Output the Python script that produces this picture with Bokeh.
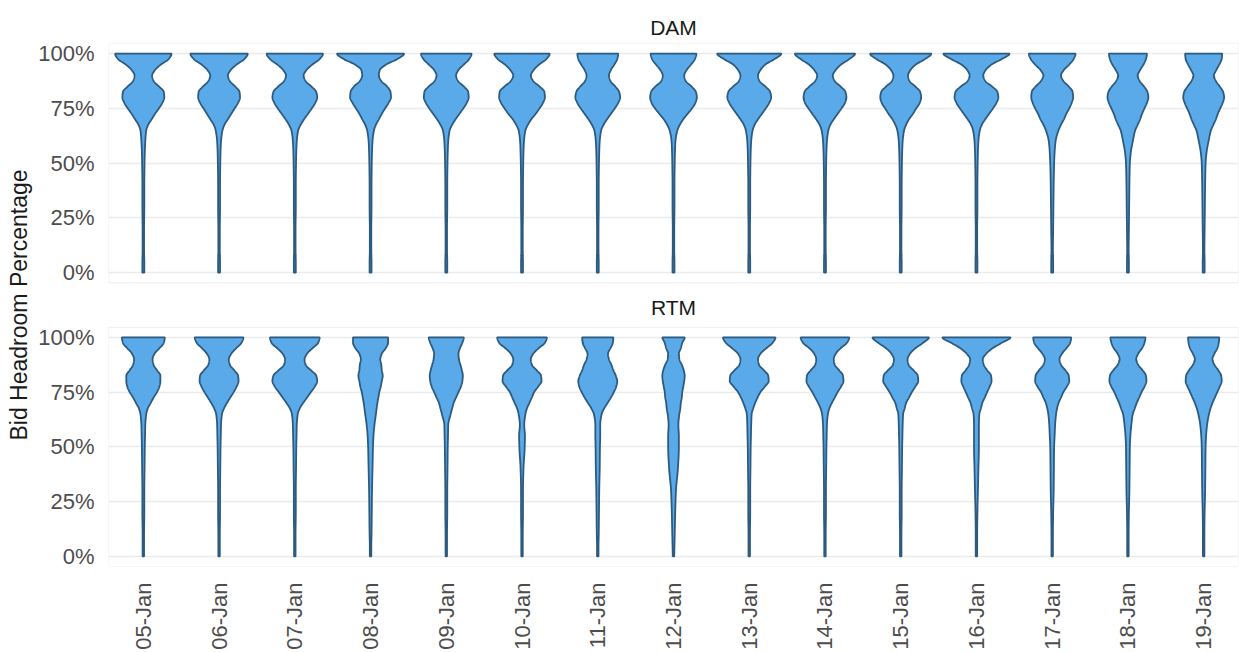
import math
import numpy as np
from bokeh.plotting import figure
from bokeh.models import Range1d, FixedTicker, ColumnDataSource
from bokeh.core.properties import value
from bokeh.embed import file_html
from bokeh.resources import INLINE

# ---- data -----------------------------------------------------------------
DAYS = ["05-Jan", "06-Jan", "07-Jan", "08-Jan", "09-Jan", "10-Jan", "11-Jan",
        "12-Jan", "13-Jan", "14-Jan", "15-Jan", "16-Jan", "17-Jan", "18-Jan",
        "19-Jan"]

# bid headroom levels (%) at which the violin widths are sampled
LEVELS = [0, 5, 10, 20, 30, 40, 50, 55, 60, 65, 67.5, 70, 72.5, 75, 77.5,
          80, 82.5, 85, 87.5, 90, 92.5, 95, 97.5, 100]

# relative density (violin width) at each level, day-ahead market
DAM_05 = [2, 2, 1.5, 1.5, 2, 2, 2.5, 3, 4, 6, 10, 17, 24, 32, 39, 43, 42, 32, 21, 18, 24, 36, 52, 58]
DAM_06 = [2, 2, 1.5, 1.5, 2, 2, 2.5, 3, 4, 7, 11, 18, 25, 32, 39, 43, 42, 33, 22, 18, 24, 36, 52, 59]
DAM_07 = [2, 2, 1.5, 1.5, 2, 2, 2.5, 3, 4, 7, 12, 19, 27, 35, 42, 46, 44, 34, 22, 18, 24, 36, 51, 58]
DAM_08 = [2, 2, 1.5, 1.5, 2, 2, 2.5, 3, 4, 7, 11, 17, 23, 30, 37, 42, 41, 34, 22, 17, 19, 32, 55, 69]
DAM_09 = [2, 2, 1.5, 1.5, 2, 2, 2.5, 3, 4, 7, 12, 19, 27, 35, 42, 46, 45, 36, 24, 20, 25, 36, 47, 52]
DAM_10 = [2, 2, 1.5, 1.5, 2, 2, 2.5, 3, 4, 7, 12, 19, 28, 36, 43, 47, 46, 36, 23, 18, 24, 35, 50, 57]
DAM_11 = [2, 2, 1.5, 1.5, 2, 2, 2.5, 3, 4, 7, 12, 19, 27, 35, 42, 46, 44, 36, 26, 23, 27, 34, 40, 42]
DAM_12 = [2, 2, 1.5, 1.5, 2, 2, 2.5, 3, 4, 8, 13, 20, 29, 38, 45, 48, 46, 37, 25, 22, 27, 36, 44, 47]
DAM_13 = [2, 2, 1.5, 1.5, 2, 2, 2.5, 3, 4, 7, 11, 18, 26, 34, 41, 45, 43, 33, 21, 18, 23, 33, 52, 66]
DAM_14 = [2, 2, 1.5, 1.5, 2, 2, 2.5, 3, 4, 7, 11, 18, 26, 34, 41, 44, 42, 32, 20, 16, 22, 33, 50, 62]
DAM_15 = [2, 2, 1.5, 1.5, 2, 2, 2.5, 3, 4, 7, 11, 17, 25, 32, 39, 42, 40, 30, 18, 15, 20, 31, 50, 63]
DAM_16 = [2, 2, 1.5, 1.5, 2, 2, 2.5, 3, 4, 7, 11, 18, 26, 34, 41, 45, 43, 32, 18, 14, 19, 31, 52, 68]
DAM_17 = [2, 2, 1.5, 2, 2.5, 3, 4, 5, 7, 13, 18, 24, 29, 35, 40, 43, 42, 34, 23, 18, 24, 35, 44, 48]
DAM_18 = [2, 2, 1.5, 2, 2.5, 3, 4, 6, 10, 15, 20, 25, 29, 34, 39, 42, 40, 33, 24, 20, 25, 32, 37, 39]
DAM_19 = [2, 2, 1.5, 2, 2.5, 3, 4, 6, 10, 15, 20, 25, 29, 34, 39, 42, 40, 33, 25, 21, 26, 32, 37, 38]

# relative density (violin width) at each level, real-time market
RTM_05 = [1.5, 1.5, 1.5, 2, 2, 2.5, 3, 3.5, 4, 6, 9, 15, 21, 28, 33, 35, 35, 28, 21, 19, 23, 33, 42, 44]
RTM_06 = [1.5, 1.5, 1.5, 2, 2, 2.5, 3, 3.5, 4, 6, 10, 16, 23, 30, 36, 40, 39, 31, 22, 20, 25, 35, 46, 50]
RTM_07 = [1.5, 1.5, 1.5, 2, 2, 2.5, 3, 3.5, 4, 6, 10, 17, 25, 33, 41, 46, 44, 33, 22, 20, 25, 36, 48, 51]
RTM_08 = [1.5, 1.5, 2, 2.5, 3, 4, 5, 6, 8, 11, 12.5, 14, 16, 18, 21, 23, 25, 23, 22, 20, 23, 31, 36, 36]
RTM_09 = [1.5, 1.5, 1.5, 2, 2, 2.5, 3, 3.5, 4, 9, 12, 15, 20, 25, 30, 33, 34, 32, 29, 26, 25, 28, 33, 36]
RTM_10 = [1.5, 1.5, 1.5, 2, 2, 3, 5.5, 6, 4.5, 7, 10, 15, 20, 25, 33, 40, 39, 30, 20, 18, 23, 34, 47, 51]
RTM_11 = [1.5, 1.5, 2, 2.5, 3, 4, 4.5, 5, 5, 8, 13, 20, 27, 33, 38, 40, 37, 32, 28, 23, 21, 26, 31, 32]
RTM_12 = [1.5, 2, 2.5, 3.5, 5, 9, 11, 11, 10, 12, 14, 15, 17, 18, 20, 22, 23, 21, 17, 12, 11, 15, 18, 23]
RTM_13 = [1.5, 1.5, 1.5, 2, 2, 2.5, 3, 3.5, 4, 5, 8, 12, 17, 23, 32, 40, 39, 30, 20, 18, 23, 35, 48, 54]
RTM_14 = [1.5, 1.5, 1.5, 2, 2, 2.5, 3, 3.5, 4, 6, 9, 14, 20, 26, 33, 38, 37, 29, 20, 18, 22, 32, 45, 50]
RTM_15 = [1.5, 1.5, 1.5, 2, 2, 2.5, 3, 3.5, 4, 5, 8, 11, 17, 23, 30, 36, 35, 26, 16, 14, 19, 30, 46, 58]
RTM_16 = [1.5, 1.5, 1.5, 2, 3, 4, 5, 5, 5, 6, 9, 12, 17, 22, 27, 31, 30, 22, 15, 13, 20, 33, 52, 70]
RTM_17 = [1.5, 1.5, 1.5, 2, 3, 3.5, 4, 5, 6, 8, 10, 13, 18, 23, 30, 35, 34, 27, 18, 15, 20, 29, 37, 39]
RTM_18 = [1.5, 1.5, 1.5, 2, 3, 3.5, 4, 5, 7, 10, 14, 18, 23, 28, 34, 38, 37, 30, 21, 17, 21, 29, 34, 36]
RTM_19 = [1.5, 1.5, 1.5, 2, 3, 3.5, 4, 5, 7, 11, 14, 18, 23, 28, 33, 37, 36, 30, 22, 18, 22, 28, 31, 32]

DAM = [DAM_05, DAM_06, DAM_07, DAM_08, DAM_09, DAM_10, DAM_11, DAM_12,
       DAM_13, DAM_14, DAM_15, DAM_16, DAM_17, DAM_18, DAM_19]
RTM = [RTM_05, RTM_06, RTM_07, RTM_08, RTM_09, RTM_10, RTM_11, RTM_12,
       RTM_13, RTM_14, RTM_15, RTM_16, RTM_17, RTM_18, RTM_19]

PCT_TICKS = [0, 25, 50, 75, 100]
PCT_LABELS = ["0%", "25%", "50%", "75%", "100%"]

# ---- styling --------------------------------------------------------------
FONT = "Liberation Sans"
FILL = "#5AA9E8"
EDGE = "#2D5B80"
GRID = "#EBEBEB"
SHIFT = 129.5      # vertical offset of the DAM facet above the RTM facet
PAD = 4.6          # facet padding below 0% and above 100%
SLOT = 0.9         # widest violin spans this share of a day slot


def smooth_profile(x, y, xn):
    """Shape-preserving cubic through the sampled widths (for a smooth outline)."""
    x = np.asarray(x, float)
    y = np.asarray(y, float)
    h = np.diff(x)
    d = np.diff(y) / h
    m = np.zeros_like(y)
    for k in range(1, len(y) - 1):
        if d[k - 1] * d[k] > 0:
            w1 = 2 * h[k] + h[k - 1]
            w2 = h[k] + 2 * h[k - 1]
            m[k] = (w1 + w2) / (w1 / d[k - 1] + w2 / d[k])
    m[0] = d[0]
    m[-1] = 0.0
    idx = np.clip(np.searchsorted(x, xn, side="right") - 1, 0, len(x) - 2)
    t = (xn - x[idx]) / h[idx]
    h00 = 2 * t**3 - 3 * t**2 + 1
    h10 = t**3 - 2 * t**2 + t
    h01 = -2 * t**3 + 3 * t**2
    h11 = t**3 - t**2
    return (h00 * y[idx] + h10 * h[idx] * m[idx] +
            h01 * y[idx + 1] + h11 * h[idx] * m[idx + 1])


fine = np.linspace(0, 100, 401)
top_density = max(max(r) for r in DAM + RTM)

xs, ys = [], []
for shift, rows in ((SHIFT, DAM), (0.0, RTM)):
    for i, row in enumerate(rows):
        half = np.maximum(smooth_profile(LEVELS, row, fine), 0.5)
        half = half / top_density * SLOT / 2
        c = i + 1
        xs.append(np.concatenate([c + half, (c - half)[::-1]]).tolist())
        ys.append((np.concatenate([fine, fine[::-1]]) + shift).tolist())

violins = ColumnDataSource(dict(xs=xs, ys=ys))

x_lo, x_hi = 0.54, len(DAYS) + 0.46

p = figure(width=1239, height=652, output_backend="svg", toolbar_location=None,
           x_range=Range1d(x_lo, x_hi),
           y_range=Range1d(-PAD, SHIFT + 100 + PAD),
           min_border_left=108, min_border_right=1,
           min_border_top=43, min_border_bottom=85,
           title="DAM")
p.outline_line_color = None
p.background_fill_color = "white"
p.border_fill_color = "white"

p.title.align = "center"
p.title.text_font = FONT
p.title.text_font_size = "21px"
p.title.text_font_style = "normal"
p.title.text_color = "#1A1A1A"
p.title.standoff = 10
p.title.text_line_height = 0.75

grid_ticks = PCT_TICKS + [t + SHIFT for t in PCT_TICKS]
p.xgrid.visible = False
p.ygrid.ticker = FixedTicker(ticks=grid_ticks)
p.ygrid.grid_line_color = GRID
p.ygrid.grid_line_width = 1.6

# facet frames
p.quad(left=[x_lo, x_lo], right=[x_hi, x_hi],
       bottom=[-PAD, SHIFT - PAD], top=[100 + PAD, SHIFT + 100 + PAD],
       fill_color=None, line_color="#EDEDED", line_width=1.2)

p.patches("xs", "ys", source=violins, fill_color=FILL, line_color=EDGE,
          line_width=1.8)

# facet strip for the real-time market
p.text(x=[(x_lo + x_hi) / 2], y=[113.4], text=["RTM"],
       text_font=value(FONT), text_font_size="21px", text_color="#1A1A1A",
       text_align="center", text_baseline="middle")

yax = p.yaxis[0]
yax.ticker = FixedTicker(ticks=grid_ticks)
yax.major_label_overrides = {float(t): lab for t, lab in
                             zip(grid_ticks, PCT_LABELS + PCT_LABELS)}
yax.axis_label = "Bid Headroom Percentage"
yax.axis_label_text_font = FONT
yax.axis_label_text_font_size = "23px"
yax.axis_label_text_font_style = "normal"
yax.axis_label_text_color = "#1A1A1A"
yax.axis_label_standoff = 3
yax.major_label_text_font = FONT
yax.major_label_text_font_size = "22px"
yax.major_label_text_color = "#4D4D4D"
yax.major_label_standoff = 8
yax.axis_line_color = None
yax.major_tick_line_color = None
yax.minor_tick_line_color = None

xax = p.xaxis[0]
xax.ticker = FixedTicker(ticks=list(range(1, len(DAYS) + 1)))
xax.major_label_overrides = {i + 1: d for i, d in enumerate(DAYS)}
xax.major_label_orientation = math.pi / 2
xax.major_label_text_font = FONT
xax.major_label_text_font_size = "22px"
xax.major_label_text_color = "#4D4D4D"
xax.major_label_standoff = 10
xax.axis_line_color = None
xax.major_tick_line_color = None
xax.minor_tick_line_color = None

open("out.html", "w").write(file_html(p, INLINE))
